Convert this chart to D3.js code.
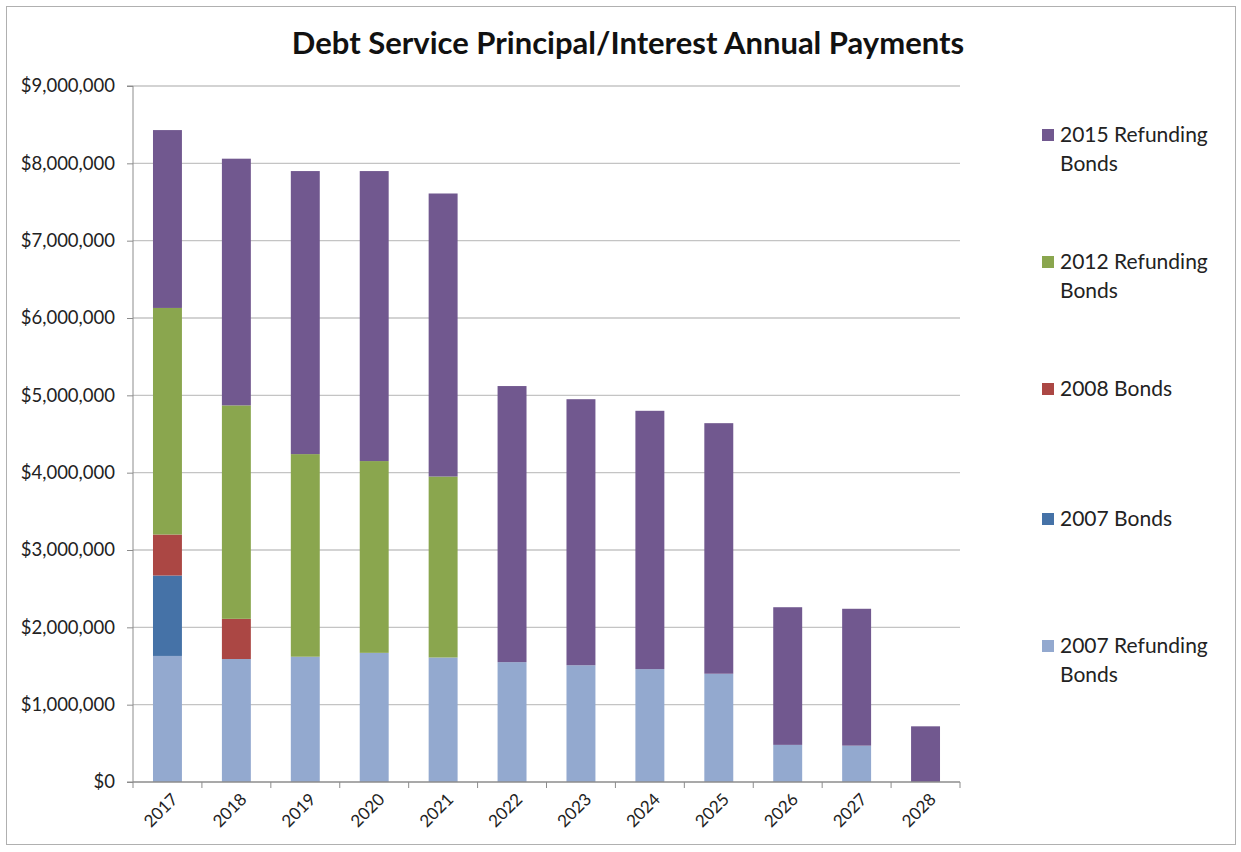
<!DOCTYPE html>
<html>
<head>
<meta charset="utf-8">
<script src="https://cdn.jsdelivr.net/npm/d3@7"></script>
<style>
  body { margin: 0; background: #fff; }
  svg { font-family: Lato, "Open Sans", sans-serif; }
</style>
</head>
<body>
<svg id="chart" width="1241" height="852"></svg>
<script>
// data (stack order bottom -> top)
const years = ["2017", "2018", "2019", "2020", "2021", "2022", "2023", "2024", "2025", "2026", "2027", "2028"];
const seriesNames = ["2007 Refunding Bonds", "2007 Bonds", "2008 Bonds", "2012 Refunding Bonds", "2015 Refunding Bonds"];
const refunding2007 = [1630000, 1590000, 1620000, 1670000, 1610000, 1550000, 1510000, 1460000, 1400000, 480000, 470000, 0];
const bonds2007 = [1040000, 0, 0, 0, 0, 0, 0, 0, 0, 0, 0, 0];
const bonds2008 = [530000, 520000, 0, 0, 0, 0, 0, 0, 0, 0, 0, 0];
const refunding2012 = [2930000, 2760000, 2620000, 2480000, 2340000, 0, 0, 0, 0, 0, 0, 0];
const refunding2015 = [2300000, 3190000, 3660000, 3750000, 3660000, 3570000, 3440000, 3340000, 3240000, 1780000, 1770000, 720000];
const yTicks = [0, 1000000, 2000000, 3000000, 4000000, 5000000, 6000000, 7000000, 8000000, 9000000];

const colors = ["#93a9cf", "#4572a7", "#ab4744", "#8aa64e", "#71588f"];
const seriesValues = [refunding2007, bonds2007, bonds2008, refunding2012, refunding2015];

const table = years.map((yr, i) => {
  const row = { year: yr };
  seriesNames.forEach((s, j) => { row[s] = seriesValues[j][i]; });
  return row;
});

const svg = d3.select("#chart");

// outer frame
svg.append("rect")
  .attr("x", 6.5).attr("y", 6.5)
  .attr("width", 1229).attr("height", 838)
  .attr("fill", "none")
  .attr("stroke", "#b0b0b0");

const margin = { top: 86, left: 133 };
const content_width = 827;
const content_height = 696;

const g = svg.append("g").attr("transform", `translate(${margin.left},${margin.top})`);

const x = d3.scaleBand().domain(years).range([0, content_width]).paddingInner(0.58).paddingOuter(0.29);
const y = d3.scaleLinear().domain([0, 9000000]).range([content_height, 0]);

// gridlines
g.append("g")
  .attr("class", "grid")
  .selectAll("line")
  .data(yTicks.slice(1))
  .join("line")
  .attr("x1", 0).attr("x2", content_width)
  .attr("y1", d => y(d)).attr("y2", d => y(d))
  .attr("stroke", "#c4c4c4")
  .attr("stroke-width", 1.3);

// stacked bars
const stack = d3.stack().keys(seriesNames);
const layers = stack(table);

g.append("g")
  .selectAll("g")
  .data(layers)
  .join("g")
  .attr("fill", (d, i) => colors[i])
  .selectAll("rect")
  .data(d => d)
  .join("rect")
  .attr("x", d => x(d.data.year))
  .attr("width", x.bandwidth())
  .attr("y", d => y(d[1]))
  .attr("height", d => y(d[0]) - y(d[1]));

// left axis
const leftAxis = d3.axisLeft(y)
  .tickValues(yTicks)
  .tickSize(6)
  .tickPadding(12)
  .tickFormat(d => "$" + d3.format(",")(d));

g.append("g")
  .attr("class", "left axis")
  .call(leftAxis)
  .call(a => a.select(".domain").attr("stroke", "#8c8c8c").attr("d", `M-6,0H0V${content_height}H-6`))
  .call(a => a.selectAll(".tick line").attr("stroke", "#8c8c8c"))
  .call(a => a.selectAll("text")
    .attr("font-size", "18.5px")
    .attr("fill", "#222")
    .attr("font-family", "Lato, sans-serif"));

// bottom axis with ticks at category boundaries
const bottom = g.append("g")
  .attr("class", "bottom axis")
  .attr("transform", `translate(0,${content_height})`);

bottom.append("line")
  .attr("x1", 0).attr("x2", content_width)
  .attr("stroke", "#8c8c8c").attr("stroke-width", 1.3);

const step = x.step();
bottom.selectAll(".bt")
  .data(d3.range(years.length + 1))
  .join("line")
  .attr("class", "bt")
  .attr("x1", i => i * step).attr("x2", i => i * step)
  .attr("y1", 0).attr("y2", 6)
  .attr("stroke", "#8c8c8c");

bottom.selectAll("text")
  .data(years)
  .join("text")
  .attr("transform", d => `translate(${x(d) + x.bandwidth() / 2 + 3},${10}) rotate(-45)`)
  .attr("text-anchor", "end")
  .attr("dy", "0.7em")
  .attr("font-size", "17px")
  .attr("fill", "#222")
  .text(d => d);

// title
svg.append("text")
  .attr("x", 628)
  .attr("y", 54)
  .attr("text-anchor", "middle")
  .attr("font-size", "31px")
  .attr("font-weight", "bold")
  .attr("fill", "#111")
  .text("Debt Service Principal/Interest Annual Payments");

// legend (top entry is the top of the stack)
const legendItems = [
  { name: "2015 Refunding Bonds", lines: ["2015 Refunding", "Bonds"], color: colors[4], y: 135 },
  { name: "2012 Refunding Bonds", lines: ["2012 Refunding", "Bonds"], color: colors[3], y: 262 },
  { name: "2008 Bonds", lines: ["2008 Bonds"], color: colors[2], y: 389 },
  { name: "2007 Bonds", lines: ["2007 Bonds"], color: colors[1], y: 519 },
  { name: "2007 Refunding Bonds", lines: ["2007 Refunding", "Bonds"], color: colors[0], y: 646 }
];

const legend = svg.append("g").attr("class", "legend");
const li = legend.selectAll("g").data(legendItems).join("g")
  .attr("transform", d => `translate(1042,${d.y})`);

li.append("rect")
  .attr("x", 0).attr("y", -6)
  .attr("width", 12).attr("height", 12)
  .attr("fill", d => d.color);

li.append("text")
  .attr("x", 18)
  .attr("font-size", "21px")
  .attr("fill", "#222")
  .selectAll("tspan")
  .data(d => d.lines)
  .join("tspan")
  .attr("x", 18)
  .attr("y", (d, i) => i * 29)
  .attr("dy", "0.35em")
  .text(d => d);
</script>
</body>
</html>
